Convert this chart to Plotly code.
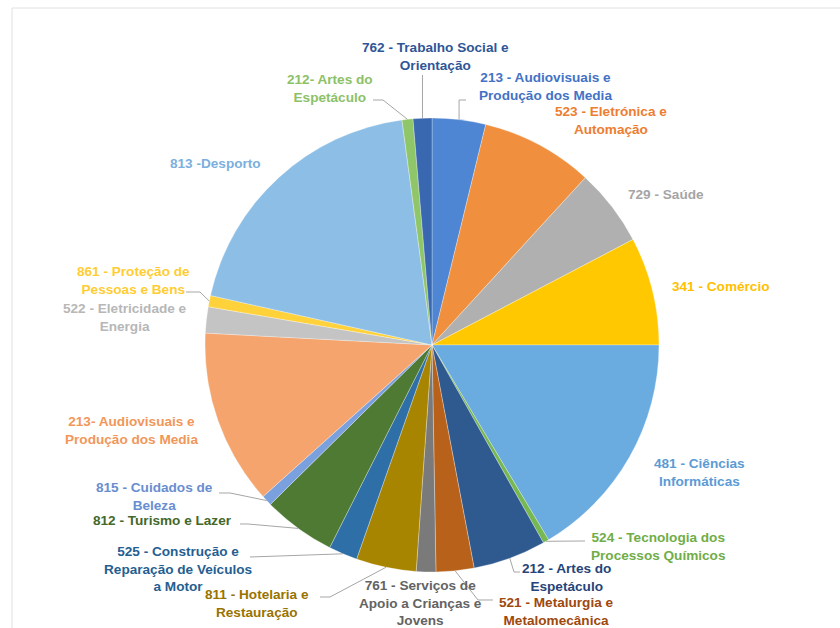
import math
import plotly.graph_objects as go

W, H = 840, 628

# ---- data (clockwise from 12 o'clock) ----
labels = [
    "213 - Audiovisuais e<br>Produção dos Media",
    "523 - Eletrónica e<br>Automação",
    "729 - Saúde",
    "341 - Comércio",
    "481 - Ciências<br>Informáticas",
    "524 - Tecnologia dos<br>Processos Químicos",
    "212 - Artes do<br>Espetáculo",
    "521 - Metalurgia e<br>Metalomecânica",
    "761 - Serviços de<br>Apoio a Crianças e<br>Jovens",
    "811 - Hotelaria e<br>Restauração",
    "525 - Construção e<br>Reparação de Veículos<br>a Motor",
    "812 - Turismo e Lazer",
    "815 - Cuidados de<br>Beleza",
    "213- Audiovisuais e<br>Produção dos Media",
    "522 - Eletricidade e<br>Energia",
    "861 - Proteção de<br>Pessoas e Bens",
    "813 -Desporto",
    "212- Artes do<br>Espetáculo",
    "762 - Trabalho Social e<br>Orientação",
]
values = [13.7, 28.8, 19.8, 27.7, 59.1, 1.5, 18.7, 9.7, 5.0, 15.4,
          7.4, 18.6, 2.7, 44.9, 6.7, 2.9, 69.8, 2.8, 4.8]
colors = ["#4F86D4", "#F0903E", "#B0B0B0", "#FFC800", "#6AABE0", "#76B852",
          "#2E5A90", "#B8611A", "#7A7A7A", "#A88500", "#2E6FA8", "#4E7A33",
          "#7AA0DD", "#F4A46C", "#C4C4C4", "#FFD23C", "#8DBFE6", "#90C66A",
          "#3A68B0"]
text_colors = ["#4472C4", "#ED7D31", "#A5A5A5", "#FFC000", "#5B9BD5", "#70AD47",
               "#264478", "#9E480E", "#636363", "#997300", "#255E91", "#43682B",
               "#698ED0", "#F1975A", "#B7B7B7", "#FFCD33", "#7CAFDD", "#8CC168",
               "#2F5597"]

# ---- layout (pixels) ----
cx, cy, r = 432, 345, 227
label_pos = [(545, 86.5), (611, 120.5), (666, 194), (720, 286), (699, 472.5),
             (658, 546.5), (566, 577), (556, 611), (420, 603), (257, 603),
             (178, 569), (162, 520), (154, 496), (131, 430.5), (125, 317.5),
             (133, 280.5), (216, 163), (330, 88.5), (435, 56.5)]
leaders = {
    0: "up", 5: [(585, 541)], 6: [(514, 572), (520, 572)],
    7: [(478, 600), (493, 600)], 9: [(330, 597), (320, 597)],
    10: [(250, 557)], 11: [(248, 524), (240, 524)], 12: [(230, 493), (219, 493)],
    15: [(200, 292), (186, 292)], 17: [(383, 100), (373, 100)], 18: "up762",
}

def px2paper(x, y):
    return x / W, 1 - y / H

fig = go.Figure(go.Pie(
    values=values, labels=labels, sort=False, direction="clockwise", rotation=0,
    marker=dict(colors=colors, line=dict(color="white", width=0.3)),
    textinfo="none", hoverinfo="label+percent",
    domain=dict(x=[(cx - r) / W, (cx + r) / W], y=[1 - (cy + r) / H, 1 - (cy - r) / H]),
    showlegend=False,
))

total = sum(values)
cum = 0
annotations = []
shapes = []
for i, v in enumerate(values):
    mid = (cum + v / 2) / total * 2 * math.pi
    cum += v
    ex, ey = cx + r * math.sin(mid), cy - r * math.cos(mid)
    lx, ly = label_pos[i]
    xp, yp = px2paper(lx, ly)
    annotations.append(dict(
        x=xp, y=yp, xref="paper", yref="paper", text=labels[i], showarrow=False,
        xanchor="center", yanchor="middle", align="center",
        font=dict(family="Liberation Sans, Arial", size=13.6, color=text_colors[i], weight="bold"),
    ))
    ld = leaders.get(i)
    if ld is None:
        continue
    if ld == "up":
        pts = [(ex, ey), (ex, 100), (466, 100)]
    elif ld == "up762":
        pts = [(ex, ey), (ex, 75)]
    else:
        pts = [(ex, ey)] + ld
    path = "M " + " L ".join(f"{px2paper(x, y)[0]:.5f},{px2paper(x, y)[1]:.5f}" for x, y in pts)
    shapes.append(dict(type="path", path=path, xref="paper", yref="paper",
                       line=dict(color="#A6A6A6", width=1)))

# light frame lines
shapes.append(dict(type="line", xref="paper", yref="paper", x0=12 / W, x1=1, y0=1 - 8 / H, y1=1 - 8 / H,
                   line=dict(color="#E0E0E0", width=1)))
shapes.append(dict(type="line", xref="paper", yref="paper", x0=12 / W, x1=12 / W, y0=0, y1=1 - 8 / H,
                   line=dict(color="#E0E0E0", width=1)))

fig.update_layout(
    width=W, height=H, margin=dict(l=0, r=0, t=0, b=0),
    paper_bgcolor="white", plot_bgcolor="white",
    annotations=annotations, shapes=shapes,
)
fig.write_html("out.html", config={"displayModeBar": False},
               post_script="document.body.style.margin='0';document.body.style.overflow='hidden';")
